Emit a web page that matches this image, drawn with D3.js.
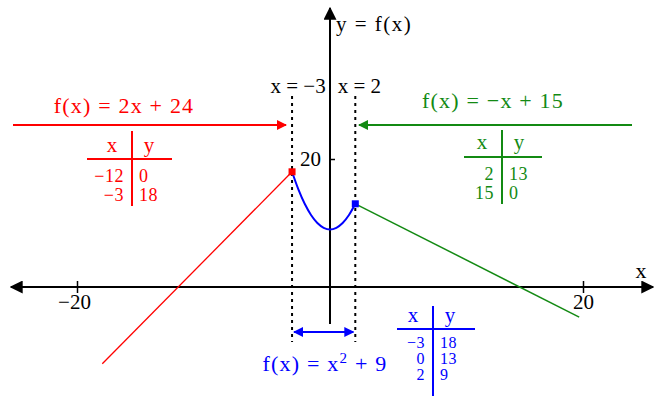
<!DOCTYPE html>
<meta charset="utf-8">
<script src="https://d3js.org/d3.v7.min.js"></script>
<style>
  body { margin: 0; background: #fff; }
  svg text { font-family: "Liberation Serif", "DejaVu Serif", serif; }
</style>
<body>
<div id="chart"></div>
<script>

// pieces of the function
var redX = [-18, -3],
    redY = [-12, 18];
var greenX = [2, 19.7],
    greenY = [13, -4.7];
var blueX = [-3, -2.5, -2, -1.5, -1, -0.5, 0, 0.5, 1, 1.5, 2],
    blueY = [18, 15.25, 13, 11.25, 10, 9.25, 9, 9.25, 10, 11.25, 13];

// tick labels
var xTicks = [-20, 20],
    yTicks = [20];
var bounds = [-3, 2];

// little value tables (text, as printed)
var redTabX = ["\u221212", "\u22123"], redTabY = ["0", "18"];
var greenTabX = ["2", "15"], greenTabY = ["13", "0"];
var blueTabX = ["\u22123", "0", "2"], blueTabY = ["18", "13", "9"];

var width = 658, height = 396;
var red = "#ff0000", green = "#138a13", blue = "#0000ff";

var svg = d3.select("#chart").append("svg")
    .attr("width", width)
    .attr("height", height);

svg.append("rect").attr("width", width).attr("height", height).attr("fill", "#fff");

var x = d3.scaleLinear().domain([-20, 20]).range([77, 583]);
var y = d3.scaleLinear().domain([0, 20]).range([287, 159]);

// arrow heads
var defs = svg.append("defs");
function arrowHead(id, color, size) {
  defs.append("marker")
      .attr("id", id)
      .attr("viewBox", "0 -5 10 10")
      .attr("refX", 9)
      .attr("refY", 0)
      .attr("markerWidth", size)
      .attr("markerHeight", size)
      .attr("markerUnits", "userSpaceOnUse")
      .attr("orient", "auto-start-reverse")
    .append("path")
      .attr("d", "M0,-5L10,0L0,5Z")
      .attr("fill", color);
}
arrowHead("aBlack", "#000", 13);
arrowHead("aRed", red, 10);
arrowHead("aGreen", green, 10);
arrowHead("aBlue", blue, 10);

// axes
svg.append("line")
    .attr("x1", x(x.invert(11))).attr("x2", x(x.invert(653)))
    .attr("y1", y(0)).attr("y2", y(0))
    .attr("stroke", "#000").attr("stroke-width", 2)
    .attr("marker-start", "url(#aBlack)")
    .attr("marker-end", "url(#aBlack)");

svg.append("line")
    .attr("x1", x(0)).attr("x2", x(0))
    .attr("y1", 324).attr("y2", 8)
    .attr("stroke", "#000").attr("stroke-width", 2)
    .attr("marker-end", "url(#aBlack)");

var xAxis = svg.append("g")
    .attr("transform", "translate(0," + y(0) + ")")
    .call(d3.axisBottom(x).tickValues(xTicks).tickSize(6).tickPadding(1)
      .tickFormat(function(d) { return d < 0 ? "\u2212" + Math.abs(d) : d; }));
xAxis.select(".domain").remove();
xAxis.selectAll(".tick line").attr("y1", -6).attr("stroke-width", 1.5);
xAxis.selectAll(".tick text")
    .attr("font-size", 21).attr("fill", "#000")
    .style("font-family", "Liberation Serif")
    .attr("dx", function(d) { return d < 0 ? -3 : 0; });

var yAxis = svg.append("g")
    .attr("transform", "translate(" + x(0) + ",0)")
    .call(d3.axisLeft(y).tickValues(yTicks).tickSize(5).tickPadding(4));
yAxis.select(".domain").remove();
yAxis.selectAll(".tick line").attr("x2", 5).attr("stroke-width", 1.5);
yAxis.selectAll(".tick text")
    .attr("font-size", 21).attr("fill", "#000")
    .style("font-family", "Liberation Serif");

svg.append("text").attr("x", 641).attr("y", 278)
    .attr("font-size", 22).attr("text-anchor", "middle").text("x");
svg.append("text").attr("x", 336).attr("y", 31)
    .attr("font-size", 21).attr("letter-spacing", 1.5).text("y = f(x)");

// boundary lines x = -3, x = 2
svg.selectAll(".bound")
  .data(bounds)
  .enter().append("line")
    .attr("x1", function(d) { return x(d); })
    .attr("x2", function(d) { return x(d); })
    .attr("y1", 96).attr("y2", 342)
    .attr("stroke", "#000").attr("stroke-width", 2)
    .attr("stroke-dasharray", "3,4");

svg.selectAll(".boundLabel")
  .data(bounds)
  .enter().append("text")
    .attr("x", function(d) { return x(d); })
    .attr("y", 93)
    .attr("font-size", 21)
    .attr("text-anchor", "middle")
    .attr("dx", function(d) { return d < 0 ? 6 : 4; })
    .text(function(d) { return "x = " + (d < 0 ? "\u2212" + Math.abs(d) : d); });

// the three pieces
var line = d3.line().x(function(d) { return x(d[0]); }).y(function(d) { return y(d[1]); });

svg.append("path")
    .attr("d", line(d3.zip(redX, redY)))
    .attr("fill", "none").attr("stroke", red).attr("stroke-width", 1.3);

svg.append("path")
    .attr("d", line(d3.zip(greenX, greenY)))
    .attr("fill", "none").attr("stroke", green).attr("stroke-width", 1.5);

svg.append("path")
    .attr("d", line.curve(d3.curveCatmullRom)(d3.zip(blueX, blueY)))
    .attr("fill", "none").attr("stroke", blue).attr("stroke-width", 2);

svg.append("rect")
    .attr("x", x(redX[1]) - 3.5).attr("y", y(redY[1]) - 3.5)
    .attr("width", 7).attr("height", 7).attr("fill", red);
svg.append("rect")
    .attr("x", x(greenX[0]) - 3.5).attr("y", y(greenY[0]) - 3.5)
    .attr("width", 7).attr("height", 7).attr("fill", blue);

// arrows pointing to each piece
svg.append("line")
    .attr("x1", 13).attr("x2", 286).attr("y1", 125).attr("y2", 125)
    .attr("stroke", red).attr("stroke-width", 2)
    .attr("marker-end", "url(#aRed)");
svg.append("line")
    .attr("x1", 632).attr("x2", 359).attr("y1", 125).attr("y2", 125)
    .attr("stroke", green).attr("stroke-width", 2)
    .attr("marker-end", "url(#aGreen)");
svg.append("line")
    .attr("x1", x(bounds[0]) + 2).attr("x2", x(bounds[1]) - 2).attr("y1", 332).attr("y2", 332)
    .attr("stroke", blue).attr("stroke-width", 2)
    .attr("marker-start", "url(#aBlue)")
    .attr("marker-end", "url(#aBlue)");

// formulas
svg.append("text").attr("x", 124).attr("y", 113)
    .attr("font-size", 22).attr("letter-spacing", 1.2).attr("fill", red).attr("text-anchor", "middle")
    .text("f(x) = 2x + 24");
svg.append("text").attr("x", 493).attr("y", 108)
    .attr("font-size", 22).attr("letter-spacing", 1.2).attr("fill", green).attr("text-anchor", "middle")
    .text("f(x) = \u2212x + 15");
var bf = svg.append("text").attr("x", 325).attr("y", 371)
    .attr("font-size", 22).attr("letter-spacing", 1.2).attr("fill", blue).attr("text-anchor", "middle");
bf.append("tspan").text("f(x) = x");
bf.append("tspan").attr("dy", -8).attr("font-size", 15).text("2");
bf.append("tspan").attr("dy", 8).text(" + 9");

// small x|y tables
function table(cx, hy, lineY, x0, x1, rowY, dy, fs, top, bottom, xs, ys, color) {
  var g = svg.append("g").attr("fill", color);
  g.append("line").attr("x1", x0).attr("x2", x1).attr("y1", lineY).attr("y2", lineY)
      .attr("stroke", color).attr("stroke-width", 2);
  g.append("line").attr("x1", cx).attr("x2", cx).attr("y1", top).attr("y2", bottom)
      .attr("stroke", color).attr("stroke-width", 2);
  g.append("text").attr("x", cx - 20).attr("y", hy).attr("font-size", 21)
      .attr("text-anchor", "middle").text("x");
  g.append("text").attr("x", cx + 17).attr("y", hy).attr("font-size", 21)
      .attr("text-anchor", "middle").text("y");
  g.selectAll(".tx").data(xs).enter().append("text")
      .attr("x", cx - 8).attr("y", function(d, i) { return rowY + i * dy; })
      .attr("font-size", fs).attr("letter-spacing", 0.5).attr("text-anchor", "end").text(function(d) { return d; });
  g.selectAll(".ty").data(ys).enter().append("text")
      .attr("x", cx + 7).attr("y", function(d, i) { return rowY + i * dy; })
      .attr("font-size", fs).attr("letter-spacing", 0.5).text(function(d) { return d; });
}

table(132, 152, 159, 87, 172, 182, 18.5, 18, 131, 206, redTabX, redTabY, red);
table(502, 149, 157, 464, 542, 180, 18.5, 18, 130, 204, greenTabX, greenTabY, green);
table(433, 322, 329, 397, 475, 348, 16, 16, 306, 396, blueTabX, blueTabY, blue);

</script>
</body>
